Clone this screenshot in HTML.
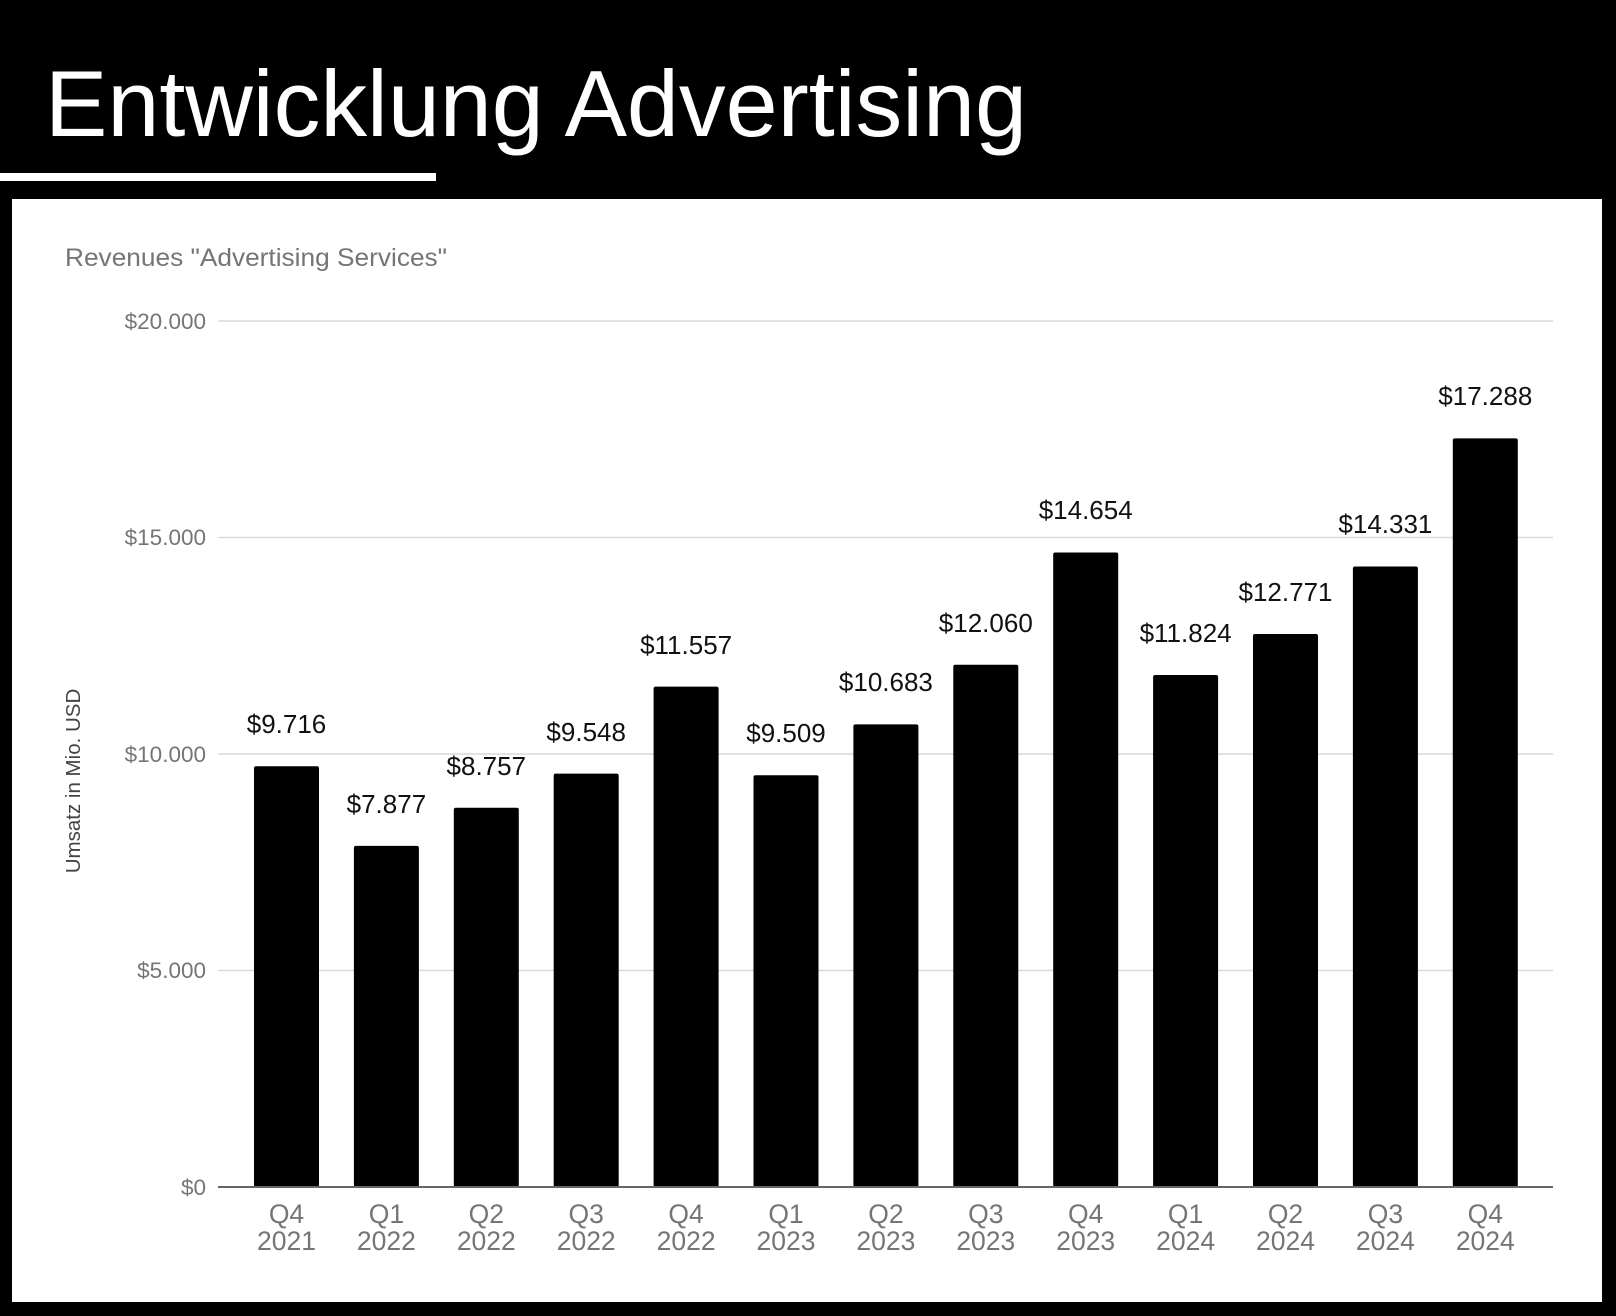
<!DOCTYPE html>
<html><head><meta charset="utf-8"><style>
html,body{margin:0;padding:0;background:#000;}
svg{display:block;}
</style></head><body>
<svg width="1616" height="1316" xmlns="http://www.w3.org/2000/svg" font-family="Liberation Sans, sans-serif">
<rect width="1616" height="1316" fill="#000"/>
<text x="45" y="136" font-size="94" fill="#fff" textLength="982" lengthAdjust="spacingAndGlyphs">Entwicklung Advertising</text>
<rect x="0" y="173" width="436" height="8" fill="#fff"/>
<rect x="12" y="199" width="1590" height="1103" fill="#fff"/>
<text x="65" y="266" font-size="25" fill="#757575" textLength="382" lengthAdjust="spacingAndGlyphs">Revenues "Advertising Services"</text>
<g stroke="#d9d9d9" stroke-width="1.5">
<line x1="218" x2="1553" y1="321" y2="321"/>
<line x1="218" x2="1553" y1="537.5" y2="537.5"/>
<line x1="218" x2="1553" y1="754" y2="754"/>
<line x1="218" x2="1553" y1="970.5" y2="970.5"/>
</g>
<g font-size="22.5" fill="#757575" text-anchor="end">
<text x="206" y="329">$20.000</text>
<text x="206" y="545">$15.000</text>
<text x="206" y="762">$10.000</text>
<text x="206" y="978">$5.000</text>
<text x="206" y="1195">$0</text>
</g>
<text transform="translate(80,781) rotate(-90)" font-size="20.5" fill="#444" text-anchor="middle">Umsatz in Mio. USD</text>
<g fill="#000">
<rect x="254" y="766.3" width="65" height="420.7" rx="2"/>
<rect x="353.9" y="845.9" width="65" height="341.1" rx="2"/>
<rect x="453.8" y="807.8" width="65" height="379.2" rx="2"/>
<rect x="553.7" y="773.6" width="65" height="413.4" rx="2"/>
<rect x="653.6" y="686.6" width="65" height="500.4" rx="2"/>
<rect x="753.5" y="775.3" width="65" height="411.7" rx="2"/>
<rect x="853.4" y="724.4" width="65" height="462.6" rx="2"/>
<rect x="953.3" y="664.8" width="65" height="522.2" rx="2"/>
<rect x="1053.2" y="552.5" width="65" height="634.5" rx="2"/>
<rect x="1153.1" y="675" width="65" height="512" rx="2"/>
<rect x="1253" y="634" width="65" height="553" rx="2"/>
<rect x="1352.9" y="566.5" width="65" height="620.5" rx="2"/>
<rect x="1452.8" y="438.4" width="65" height="748.6" rx="2"/>
</g>
<g font-size="26" fill="#111" text-anchor="middle">
<text x="286.5" y="733">$9.716</text>
<text x="386.4" y="813">$7.877</text>
<text x="486.3" y="775">$8.757</text>
<text x="586.2" y="741">$9.548</text>
<text x="686.1" y="654">$11.557</text>
<text x="786" y="742">$9.509</text>
<text x="885.9" y="691">$10.683</text>
<text x="985.8" y="632">$12.060</text>
<text x="1085.7" y="519">$14.654</text>
<text x="1185.6" y="642">$11.824</text>
<text x="1285.5" y="601">$12.771</text>
<text x="1385.4" y="533">$14.331</text>
<text x="1485.3" y="405">$17.288</text>
</g>
<g font-size="26.5" fill="#757575" text-anchor="middle">
<text x="286.5" y="1223">Q4</text><text x="286.5" y="1250">2021</text>
<text x="386.4" y="1223">Q1</text><text x="386.4" y="1250">2022</text>
<text x="486.3" y="1223">Q2</text><text x="486.3" y="1250">2022</text>
<text x="586.2" y="1223">Q3</text><text x="586.2" y="1250">2022</text>
<text x="686.1" y="1223">Q4</text><text x="686.1" y="1250">2022</text>
<text x="786" y="1223">Q1</text><text x="786" y="1250">2023</text>
<text x="885.9" y="1223">Q2</text><text x="885.9" y="1250">2023</text>
<text x="985.8" y="1223">Q3</text><text x="985.8" y="1250">2023</text>
<text x="1085.7" y="1223">Q4</text><text x="1085.7" y="1250">2023</text>
<text x="1185.6" y="1223">Q1</text><text x="1185.6" y="1250">2024</text>
<text x="1285.5" y="1223">Q2</text><text x="1285.5" y="1250">2024</text>
<text x="1385.4" y="1223">Q3</text><text x="1385.4" y="1250">2024</text>
<text x="1485.3" y="1223">Q4</text><text x="1485.3" y="1250">2024</text>
</g>
<line x1="218" x2="1553" y1="1187" y2="1187" stroke="#666" stroke-width="2"/>
</svg>
</body></html>
